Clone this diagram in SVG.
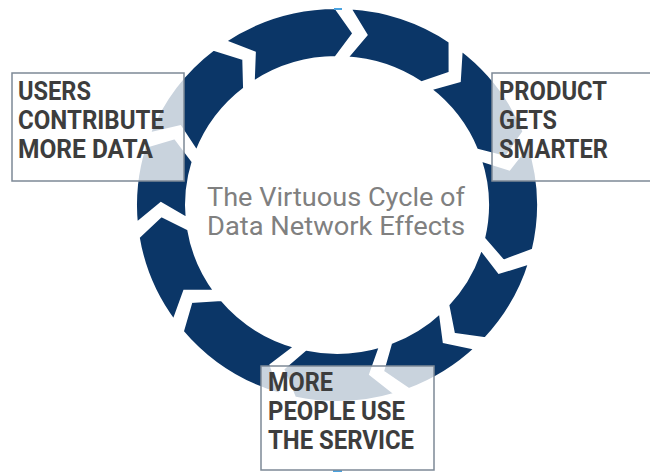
<svg xmlns="http://www.w3.org/2000/svg" width="650" height="472" viewBox="0 0 650 472">
<style>
.seg{fill:#0b3667;stroke:#ffffff;stroke-width:4;stroke-linejoin:miter}
.box{fill:#ffffff;fill-opacity:0.78;stroke:#7d8996;stroke-width:1.5}
.lbl{font-family:Roboto,"Liberation Sans",Arial,sans-serif;font-weight:700;font-size:25px;fill:#3d3d3d}
.title{font-family:Roboto,"Liberation Sans",Arial,sans-serif;font-weight:400;font-size:25px;fill:#808080}
.tick{stroke:#4aa3e0;stroke-width:2}
</style>
<rect width="650" height="472" fill="#ffffff"/>
<g id="connectors" transform="translate(337,205) scale(1,0.98)">
<path class="seg" d="M11.63,-201.67 A202,202 0 0 1 113.54,-167.07 L113.60,-134.43 L84.32,-124.07 A150,150 0 0 0 8.63,-149.75 L28.44,-173.69 Z"/>
<path class="seg" d="M123.81,-159.61 A202,202 0 0 1 187.56,-75.01 L169.35,-47.92 L139.27,-55.71 A150,150 0 0 0 91.93,-118.52 L121.82,-127.03 Z"/>
<path class="seg" d="M191.89,-63.09 A202,202 0 0 1 196.66,46.13 L166.21,57.88 L146.03,34.25 A150,150 0 0 0 142.50,-46.86 L172.03,-37.19 Z"/>
<path class="seg" d="M193.37,58.39 A202,202 0 0 1 148.45,136.99 L116.16,132.22 L110.24,101.72 A150,150 0 0 0 143.60,43.35 L162.25,68.20 Z"/>
<path class="seg" d="M139.56,146.04 A202,202 0 0 1 71.73,188.84 L44.96,170.16 L53.27,140.22 A150,150 0 0 0 103.63,108.44 L107.63,139.25 Z"/>
<path class="seg" d="M59.73,192.97 A202,202 0 0 1 -42.68,197.43 L-54.97,167.19 L-31.70,146.61 A150,150 0 0 0 44.36,143.29 L34.18,172.65 Z"/>
<path class="seg" d="M-55.00,194.36 A202,202 0 0 1 -155.20,129.30 L-146.27,97.91 L-115.24,96.02 A150,150 0 0 0 -40.85,144.34 L-65.36,163.41 Z"/>
<path class="seg" d="M-163.00,119.30 A202,202 0 0 1 -199.34,32.64 L-175.71,10.13 L-148.03,24.24 A150,150 0 0 0 -121.05,88.59 L-152.11,88.53 Z"/>
<path class="seg" d="M-201.00,20.06 A202,202 0 0 1 -192.97,-59.73 L-161.77,-69.33 L-143.29,-44.36 A150,150 0 0 0 -149.26,14.90 L-176.00,-0.92 Z"/>
<path class="seg" d="M-188.84,-71.73 A202,202 0 0 1 -123.81,-159.61 L-92.74,-149.58 L-91.93,-118.52 A150,150 0 0 0 -140.22,-53.27 L-157.10,-79.35 Z"/>
<path class="seg" d="M-113.54,-167.07 A202,202 0 0 1 -1.06,-202.00 L17.48,-175.13 L-0.79,-150.00 A150,150 0 0 0 -84.32,-124.07 L-83.17,-155.11 Z"/>
</g>
<line class="tick" x1="334" y1="9" x2="342" y2="9"/>
<line class="tick" x1="333" y1="471" x2="342" y2="471" stroke="#a9dcef"/>
<g id="title">
<text class="title" x="336" y="206" text-anchor="middle" textLength="258" lengthAdjust="spacingAndGlyphs">The Virtuous Cycle of</text>
<text class="title" x="336" y="235" text-anchor="middle" textLength="258" lengthAdjust="spacingAndGlyphs">Data Network Effects</text>
</g>
<g id="node-users">
<rect class="box" x="12" y="73" width="172" height="108"/>
<text class="lbl" x="18" y="100" textLength="73" lengthAdjust="spacingAndGlyphs">USERS</text>
<text class="lbl" x="18" y="129" textLength="146" lengthAdjust="spacingAndGlyphs">CONTRIBUTE</text>
<text class="lbl" x="18" y="158" textLength="135" lengthAdjust="spacingAndGlyphs">MORE DATA</text>
</g>
<g id="node-product">
<rect class="box" x="492" y="73" width="162" height="108"/>
<text class="lbl" x="499" y="100" textLength="108" lengthAdjust="spacingAndGlyphs">PRODUCT</text>
<text class="lbl" x="499" y="129" textLength="58" lengthAdjust="spacingAndGlyphs">GETS</text>
<text class="lbl" x="499" y="158" textLength="109" lengthAdjust="spacingAndGlyphs">SMARTER</text>
</g>
<g id="node-people">
<rect class="box" x="261" y="366" width="173" height="104"/>
<text class="lbl" x="268" y="391" textLength="65" lengthAdjust="spacingAndGlyphs">MORE</text>
<text class="lbl" x="268" y="420" textLength="137" lengthAdjust="spacingAndGlyphs">PEOPLE USE</text>
<text class="lbl" x="268" y="449" textLength="146" lengthAdjust="spacingAndGlyphs">THE SERVICE</text>
</g>
</svg>
